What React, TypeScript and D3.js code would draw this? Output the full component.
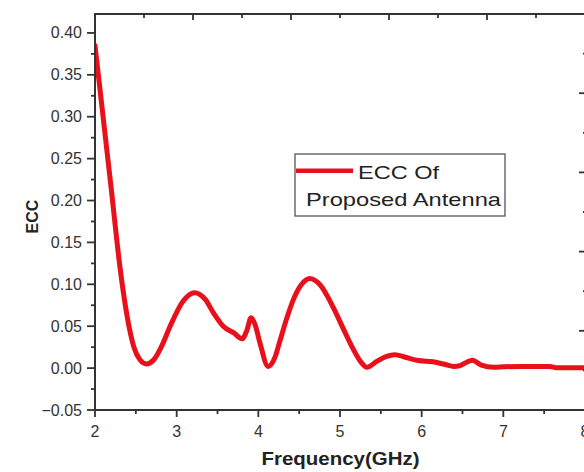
import React from "react";
import * as d3 from "d3";

const freq = [2.0, 2.05, 2.1, 2.2, 2.3, 2.36, 2.42, 2.48, 2.55, 2.63, 2.72, 2.82, 2.92, 3.08, 3.22, 3.35, 3.45, 3.57, 3.7, 3.8, 3.86, 3.91, 3.96, 4.02, 4.12, 4.2, 4.26, 4.35, 4.43, 4.53, 4.63, 4.75, 4.92, 5.05, 5.16, 5.25, 5.33, 5.45, 5.57, 5.67, 5.8, 5.96, 6.14, 6.3, 6.39, 6.47, 6.55, 6.62, 6.73, 6.88, 7.0, 7.2, 7.4, 7.57, 7.65, 7.8, 8.0];
const ecc = [0.385, 0.342, 0.299, 0.213, 0.125, 0.082, 0.048, 0.024, 0.01, 0.005, 0.01, 0.027, 0.05, 0.08, 0.09, 0.082, 0.066, 0.05, 0.042, 0.035, 0.045, 0.06, 0.052, 0.03, 0.002, 0.012, 0.031, 0.06, 0.082, 0.1, 0.107, 0.1, 0.072, 0.045, 0.023, 0.008, 0.001, 0.008, 0.014, 0.016, 0.013, 0.009, 0.0075, 0.004, 0.002, 0.003, 0.007, 0.0095, 0.0035, 0.001, 0.0015, 0.002, 0.002, 0.002, 0.0005, 0.0005, 0.0005];

const xTicks = [2, 3, 4, 5, 6, 7, 8];
const xMinorTicks = [2.5, 3.5, 4.5, 5.5, 6.5, 7.5];
const yTicks = [-0.05, 0, 0.05, 0.1, 0.15, 0.2, 0.25, 0.3, 0.35, 0.4];
const yMinorTicks = [-0.025, 0.025, 0.075, 0.125, 0.175, 0.225, 0.275, 0.325, 0.375];
const topTicks = [1, 2, 3, 4, 5, 6, 7, 8, 9, 10];
const rightTicks = [1, 2, 3, 4, 5, 6, 7, 8, 9];

const xLabel = "Frequency(GHz)";
const yLabel = "ECC";
const legendLine1 = "ECC Of";
const legendLine2 = "Proposed Antenna";

export default function App() {
  const W = 584, H = 472;
  const left = 95, right = 585, top = 14, bottom = 410;
  const x = d3.scaleLinear().domain([2, 8]).range([left, right]);
  const y = d3.scaleLinear().domain([-0.05, 0.4226]).range([bottom, top]);
  const xTop = d3.scaleLinear().domain([0, 10]).range([left, right]);
  const yRight = d3.scaleLinear().domain([0, 10]).range([bottom, top]);

  const line = d3
    .line<number>()
    .x((_, i) => x(freq[i]))
    .y((d) => y(d))
    .curve(d3.curveMonotoneX);

  const axisColor = "#333";
  const font = "Liberation Sans, Arial, sans-serif";

  return (
    <svg width={W} height={H} style={{ position: "absolute", left: 0, top: 0, background: "#fff" }} fontFamily={font}>
      <rect x={0} y={0} width={W} height={H} fill="#fff" />
      <defs>
        <clipPath id="plot">
          <rect x={left} y={top} width={right - left} height={bottom - top} />
        </clipPath>
      </defs>

      {/* data line */}
      <path d={line(ecc) || ""} fill="none" stroke="#e8101a" strokeWidth={5} strokeLinejoin="round" strokeLinecap="round" clipPath="url(#plot)" />

      {/* axes lines */}
      <line x1={left} x2={left} y1={top - 1} y2={bottom + 1} stroke={axisColor} strokeWidth={2} />
      <line x1={left - 1} x2={right + 3} y1={bottom} y2={bottom} stroke={axisColor} strokeWidth={2} />
      <line x1={left - 1} x2={right + 3} y1={top} y2={top} stroke={axisColor} strokeWidth={2} />
      <line x1={right + 2} x2={right + 2} y1={top} y2={bottom} stroke={axisColor} strokeWidth={2} />

      {/* bottom ticks */}
      {xTicks.map((t) => (
        <g key={"xt" + t}>
          <line x1={x(t)} x2={x(t)} y1={bottom} y2={bottom + 7} stroke={axisColor} strokeWidth={1.8} />
          <text x={x(t)} y={437} textAnchor="middle" fontSize={16} fill="#333">{t}</text>
        </g>
      ))}
      {xMinorTicks.map((t) => (
        <line key={"xm" + t} x1={x(t)} x2={x(t)} y1={bottom} y2={bottom + 4} stroke={axisColor} strokeWidth={1.8} />
      ))}

      {/* left ticks */}
      {yTicks.map((t) => (
        <g key={"yt" + t}>
          <line x1={left - 8} x2={left} y1={y(t)} y2={y(t)} stroke={axisColor} strokeWidth={1.8} />
          <text x={82} y={y(t) + 5.5} textAnchor="end" fontSize={16} fill="#333">
            {t < 0 ? "\u2212" + Math.abs(t).toFixed(2) : t.toFixed(2)}
          </text>
        </g>
      ))}
      {yMinorTicks.map((t) => (
        <line key={"ym" + t} x1={left - 4} x2={left} y1={y(t)} y2={y(t)} stroke={axisColor} strokeWidth={1.8} />
      ))}

      {/* top ticks (inward) */}
      {topTicks.map((t) => (
        <line key={"tt" + t} x1={xTop(t)} x2={xTop(t)} y1={top} y2={top + (t % 2 === 0 ? 6 : 4)} stroke={axisColor} strokeWidth={1.8} />
      ))}

      {/* right ticks (inward) */}
      {rightTicks.map((t) => (
        <line key={"rt" + t} x1={right + 2} x2={right - (t % 2 === 0 ? 6 : 2)} y1={yRight(t)} y2={yRight(t)} stroke={axisColor} strokeWidth={1.8} />
      ))}

      {/* axis titles */}
      <text x={261.5} y={465} fontSize={18} fontWeight="bold" fill="#222" textLength={158} lengthAdjust="spacingAndGlyphs">{xLabel}</text>
      <text transform="translate(38,216.5) rotate(-90)" textAnchor="middle" fontSize={16} fontWeight="bold" fill="#222">{yLabel}</text>

      {/* legend */}
      <rect x={295} y={154} width={210} height={62} fill="#fff" stroke="#555" strokeWidth={1.3} />
      <line x1={296} x2={353} y1={170.7} y2={170.7} stroke="#e8101a" strokeWidth={4.5} />
      <text x={358} y={178.5} fontSize={19} fill="#222" textLength={81} lengthAdjust="spacingAndGlyphs">{legendLine1}</text>
      <text x={306} y={205.5} fontSize={19} fill="#222" textLength={195} lengthAdjust="spacingAndGlyphs">{legendLine2}</text>
    </svg>
  );
}
